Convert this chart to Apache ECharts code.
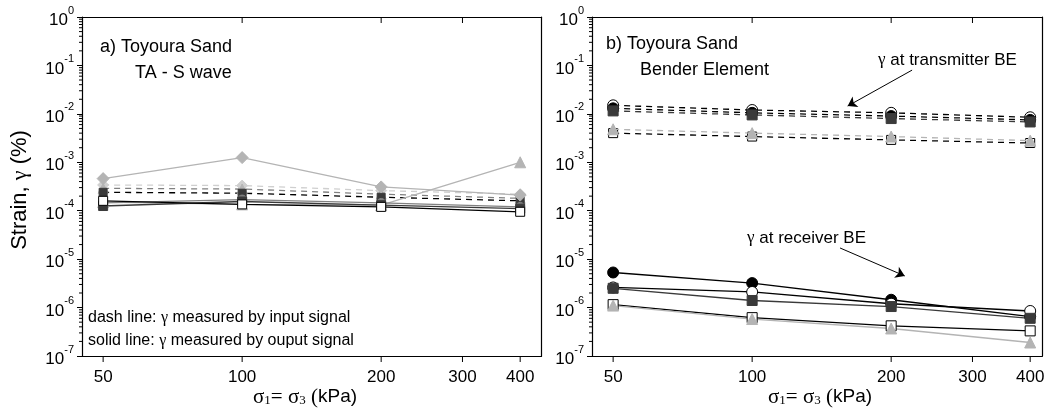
<!DOCTYPE html>
<html><head><meta charset="utf-8">
<script src="https://cdn.jsdelivr.net/npm/echarts@6/dist/echarts.min.js"></script>
<style>html,body{margin:0;padding:0;background:#fff}#c{width:1054px;height:413px}</style>
</head><body><div id="c"></div>
<script>
// ---------- data ----------
const stress = [50, 100, 200, 400];
const xTickValues = [50, 100, 200, 300, 400];
const topTickValues = [100, 200, 300];
const minorMultipliers = [2, 3, 4, 5, 6, 7, 8, 9];
const yDecadeExponents = [-7, -6, -5, -4, -3, -2, -1];

// panel a) TA - S wave
const aDiamondSolid   = [4.6e-4, 1.25e-3, 3.1e-4, 2.1e-4];
const aTriangleSolid  = [1.5e-4, 1.35e-4, 1.3e-4, 1.0e-3];
const aCircleSolid    = [1.45e-4, 1.7e-4, 1.45e-4, 1.2e-4];
const aSquareSolid    = [1.25e-4, 1.55e-4, 1.3e-4, 1.1e-4];
const aOpenSquareSolid= [1.6e-4, 1.35e-4, 1.2e-4, 9.5e-5];
const aLightDash      = [3.4e-4, 3.3e-4, 2.6e-4, 2.2e-4];
const aGrayDash       = [2.9e-4, 2.8e-4, 2.2e-4, 1.8e-4];
const aBlackDash      = [2.4e-4, 2.3e-4, 1.9e-4, 1.6e-4];

// panel b) bender element - transmitter (dashed)
const bTxOpenCircle  = [1.5e-2, 1.2e-2, 1.05e-2, 8.5e-3];
const bTxBlackCircle = [1.3e-2, 1.05e-2, 9.0e-3, 7.5e-3];
const bTxGraySquare  = [1.15e-2, 9.5e-3, 8.0e-3, 6.8e-3];
const bTxTriangle    = [4.8e-3, 4.0e-3, 3.4e-3, 2.8e-3];
const bTxOpenSquare  = [4.0e-3, 3.4e-3, 2.9e-3, 2.5e-3];
// receiver (solid)
const bRxBlackCircle = [5.3e-6, 3.2e-6, 1.45e-6, 6.5e-7];
const bRxOpenCircle  = [2.6e-6, 2.1e-6, 1.2e-6, 8.5e-7];
const bRxGraySquare  = [2.5e-6, 1.4e-6, 1.05e-6, 6.0e-7];
const bRxOpenSquare  = [1.15e-6, 6.2e-7, 4.2e-7, 3.3e-7];
const bRxTriangle    = [1.1e-6, 5.8e-7, 3.7e-7, 1.9e-7];

// arrows (data coordinates)
const arrowTx = [[222, 0.08], [161, 0.0145]];
const arrowRx = [[155, 1.7e-5], [214, 4.5e-6]];

// ---------- layout ----------
const FONT = 'Liberation Sans';
const SERIF = 'Liberation Serif';
const X_MIN = 45, Y_MIN = 1e-7, Y_MAX = 1;
const PX_PER_DECADE = 461.8;
const xMax = [445, 425];
const gridLeft = [82, 592];
const grids = xMax.map((m, i) => ({
  left: gridLeft[i], top: 17, height: 339,
  width: PX_PER_DECADE * Math.log10(m / X_MIN)
}));

const BLACK = '#000', DARK = '#3a3a3a', GRAY = '#808080', LIGHT = '#b4b4b4', LIGHTER = '#cfcfcf';

const xAxes = [], yAxes = [];
grids.forEach((g, i) => {
  xAxes.push({type: 'log', logBase: 10, gridIndex: i, min: X_MIN, max: xMax[i], position: 'bottom',
    axisLine: {show: true, lineStyle: {color: BLACK, width: 1.2}}, axisTick: {show: false},
    axisLabel: {show: false}, splitLine: {show: false}});
  xAxes.push({type: 'log', logBase: 10, gridIndex: i, min: X_MIN, max: xMax[i], position: 'top',
    axisLine: {show: true, lineStyle: {color: BLACK, width: 1.2}}, axisTick: {show: false},
    axisLabel: {show: false}, splitLine: {show: false}});
  yAxes.push({type: 'log', logBase: 10, gridIndex: i, min: Y_MIN, max: Y_MAX, splitNumber: 7, position: 'left',
    axisLine: {show: true, lineStyle: {color: BLACK, width: 1.2}},
    axisTick: {show: true, inside: false, length: 5, lineStyle: {color: BLACK, width: 1}},
    axisLabel: {margin: 8, color: BLACK,
      formatter: v => '{b|10}{s|' + Math.round(Math.log10(v)) + '}',
      rich: {b: {fontSize: 17, fontFamily: FONT, color: BLACK, lineHeight: 24, verticalAlign: 'bottom'},
             s: {fontSize: 11, fontFamily: FONT, color: BLACK, lineHeight: 10, verticalAlign: 'top'}}},
    splitLine: {show: false}});
  yAxes.push({type: 'log', logBase: 10, gridIndex: i, min: Y_MIN, max: Y_MAX, position: 'right',
    axisLine: {show: true, lineStyle: {color: BLACK, width: 1.2}}, axisTick: {show: false},
    axisLabel: {show: false}, splitLine: {show: false}});
});

function ser(g, arr, sym, fill, border, lineColor, dashed, size, z) {
  return {
    type: 'line', xAxisIndex: g * 2, yAxisIndex: g * 2,
    data: stress.map((x, i) => [x, arr[i]]),
    symbol: sym, symbolSize: size || 10, showSymbol: true,
    itemStyle: {color: fill, borderColor: border, borderWidth: 1, opacity: 1},
    lineStyle: {color: lineColor, width: 1.3, type: dashed ? [6, 5] : 'solid'},
    z: z || 2, animation: false, silent: true
  };
}

const minorData = [];
yDecadeExponents.forEach(e => minorMultipliers.forEach(m => minorData.push([X_MIN, m * Math.pow(10, e)])));

function minorTickSeries(g) {
  return {type: 'custom', xAxisIndex: g * 2, yAxisIndex: g * 2, clip: false, silent: true, z: 5,
    data: minorData,
    renderItem: (params, api) => {
      const p = api.coord([api.value(0), api.value(1)]);
      return {type: 'line', shape: {x1: p[0] - 3, y1: p[1], x2: p[0], y2: p[1]},
              style: {stroke: BLACK, lineWidth: 1}};
    }};
}
function xTickSeries(g) {
  return {type: 'custom', xAxisIndex: g * 2, yAxisIndex: g * 2, clip: false, silent: true, z: 5,
    data: xTickValues.map(v => [v, Y_MIN]),
    renderItem: (params, api) => {
      const v = api.value(0);
      const p = api.coord([v, Y_MIN]);
      const q = api.coord([v, Y_MAX]);
      const children = [
        {type: 'line', shape: {x1: p[0], y1: p[1], x2: p[0], y2: p[1] + 6}, style: {stroke: BLACK, lineWidth: 1}},
        {type: 'text', x: p[0], y: p[1] + 21, style: {text: String(v), fontSize: 17, fontFamily: FONT, fill: BLACK, align: 'center', verticalAlign: 'middle'}}
      ];
      if (topTickValues.indexOf(v) >= 0) {
        children.push({type: 'line', shape: {x1: q[0], y1: q[1], x2: q[0], y2: q[1] + 6}, style: {stroke: BLACK, lineWidth: 1}});
      }
      return {type: 'group', children};
    }};
}

const series = [
  // panel a
  ser(0, aLightDash, 'diamond', LIGHTER, LIGHTER, LIGHTER, true, 11),
  ser(0, aGrayDash, 'triangle', LIGHT, LIGHT, GRAY, true, 10),
  ser(0, aBlackDash, 'rect', DARK, DARK, BLACK, true, 8),
  ser(0, aDiamondSolid, 'diamond', LIGHT, LIGHT, LIGHT, false, 12),
  ser(0, aTriangleSolid, 'triangle', LIGHT, LIGHT, LIGHT, false, 11),
  ser(0, aCircleSolid, 'circle', GRAY, GRAY, GRAY, false, 9),
  ser(0, aSquareSolid, 'rect', DARK, DARK, DARK, false, 9),
  ser(0, aOpenSquareSolid, 'rect', '#fff', BLACK, BLACK, false, 9),
  // panel b transmitter
  Object.assign(ser(1, bTxOpenCircle, 'circle', '#fff', BLACK, BLACK, true, 11), {
    markLine: {silent: true, symbol: ['none', 'arrow'], symbolSize: 9, animation: false,
      label: {show: false}, lineStyle: {color: BLACK, width: 1, type: 'solid'},
      data: [[{coord: arrowTx[0]}, {coord: arrowTx[1]}], [{coord: arrowRx[0]}, {coord: arrowRx[1]}]]}
  }),
  ser(1, bTxBlackCircle, 'circle', BLACK, BLACK, BLACK, true, 11),
  ser(1, bTxGraySquare, 'rect', DARK, DARK, DARK, true, 10),
  ser(1, bTxTriangle, 'triangle', LIGHT, LIGHT, LIGHT, true, 11),
  ser(1, bTxOpenSquare, 'rect', '#fff', BLACK, BLACK, true, 9, 1),
  // receiver
  ser(1, bRxBlackCircle, 'circle', BLACK, BLACK, BLACK, false, 11),
  ser(1, bRxOpenCircle, 'circle', '#fff', BLACK, BLACK, false, 11),
  ser(1, bRxGraySquare, 'rect', DARK, DARK, DARK, false, 10),
  ser(1, bRxOpenSquare, 'rect', '#fff', BLACK, BLACK, false, 10),
  ser(1, bRxTriangle, 'triangle', LIGHT, LIGHT, LIGHT, false, 11),
  minorTickSeries(0), minorTickSeries(1), xTickSeries(0), xTickSeries(1)
];

function txt(x, y, text, size, extra) {
  return Object.assign({type: 'text', x, y, silent: true,
    style: Object.assign({text, fontSize: size, fontFamily: FONT, fill: BLACK, align: 'left', verticalAlign: 'middle',
      rich: {g: {fontFamily: SERIF, fontSize: size, fill: BLACK},
             n: {fontFamily: FONT, fontSize: size, fill: BLACK},
             gs: {fontFamily: SERIF, fontSize: size + 2, fill: BLACK},
             sub: {fontFamily: SERIF, fontSize: 13, fill: BLACK, verticalAlign: 'bottom', lineHeight: 16}}}, extra || {})});
}
const xTitle = '{gs|σ}{sub|1}{gs|= σ}{sub|3}{gs| (}{n|kPa)}';

const graphic = [
  txt(100, 47, 'a) Toyoura Sand', 18),
  txt(135, 73, 'TA - S wave', 18),
  txt(606, 44, 'b) Toyoura Sand', 18),
  txt(640, 70, 'Bender Element', 18),
  txt(88, 318, '{n|dash line: }{g|γ}{n| measured by input signal}', 16),
  txt(88, 341, '{n|solid line: }{g|γ}{n| measured by ouput signal}', 16),
  txt(878, 60, '{g|γ}{n| at transmitter BE}', 17),
  txt(747, 238, '{g|γ}{n| at receiver BE}', 17),
  txt(305, 397, xTitle, 19, {align: 'center'}),
  txt(820, 397, xTitle, 19, {align: 'center'}),
  Object.assign(txt(20, 190, '{n|Strain, }{g|γ}{n| (%)}', 22, {align: 'center'}), {rotation: Math.PI / 2})
];

const chart = echarts.init(document.getElementById('c'));
chart.setOption({
  animation: false,
  backgroundColor: '#fff',
  grid: grids,
  xAxis: xAxes,
  yAxis: yAxes,
  series,
  graphic
});
</script>
</body></html>
